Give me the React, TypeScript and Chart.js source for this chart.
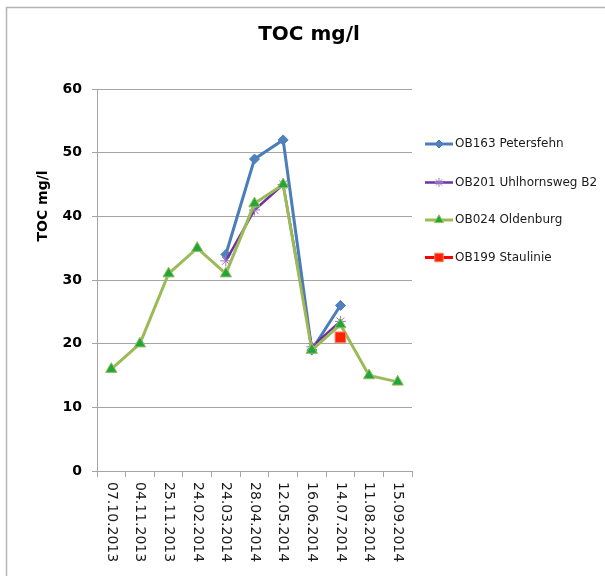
import React, { useEffect, useRef } from "react";
import { Chart, registerables } from "chart.js";
import { drawPoint } from "chart.js/helpers";

Chart.register(...registerables);

// Sampling dates
const categories = [
  "07.10.2013",
  "04.11.2013",
  "25.11.2013",
  "24.02.2014",
  "24.03.2014",
  "28.04.2014",
  "12.05.2014",
  "16.06.2014",
  "14.07.2014",
  "11.08.2014",
  "15.09.2014",
];

// TOC in mg/l per measuring point
const petersfehn = [null, null, null, null, 34, 49, 52, 19, 26, null, null];
const uhlhornsweg = [null, null, null, null, 33, 41, 45, 19.5, 23.5, null, null];
const oldenburg = [16, 20, 31, 35, 31, 42, 45, 19, 23, 15, 14];
const staulinie = [null, null, null, null, null, null, null, null, 21, null, null];

const seriesNames = [
  "OB163 Petersfehn",
  "OB201 Uhlhornsweg B2",
  "OB024 Oldenburg",
  "OB199 Staulinie",
];

const yTicks = { min: 0, max: 60, step: 10 };

const chartTitle = "TOC mg/l";
const yTitle = "TOC mg/l";

const FONT = "'DejaVu Sans', 'Liberation Sans', sans-serif";

const decorPlugin = {
  id: "decor",
  beforeDraw(chart: any) {
    const ctx = chart.ctx;
    ctx.save();
    ctx.fillStyle = "#ffffff";
    ctx.fillRect(0, 0, chart.width, chart.height);
    // outer frame
    ctx.strokeStyle = "#b4b4b4";
    ctx.lineWidth = 1.5;
    ctx.beginPath();
    ctx.moveTo(6.5, chart.height);
    ctx.lineTo(6.5, 7.5);
    ctx.lineTo(chart.width, 7.5);
    ctx.stroke();
    ctx.restore();
  },
  afterDraw(chart: any) {
    const ctx = chart.ctx;
    const area = chart.chartArea;
    ctx.save();

    // chart title
    ctx.fillStyle = "#000000";
    ctx.font = `bold 20px ${FONT}`;
    ctx.textAlign = "center";
    ctx.textBaseline = "alphabetic";
    ctx.fillText(chartTitle, 309, 40);

    // y axis title
    ctx.save();
    ctx.translate(43, 206);
    ctx.rotate(-Math.PI / 2);
    ctx.font = `bold 14px ${FONT}`;
    ctx.textAlign = "center";
    ctx.textBaseline = "middle";
    ctx.fillText(yTitle, 0, 0);
    ctx.restore();

    // x labels, rotated clockwise
    const xScale = chart.scales.x;
    ctx.font = `14px ${FONT}`;
    ctx.fillStyle = "#1a1a1a";
    categories.forEach((c, i) => {
      const x = xScale.getPixelForValue(i);
      ctx.save();
      ctx.translate(x, area.bottom + 11);
      ctx.rotate(Math.PI / 2);
      ctx.textAlign = "left";
      ctx.textBaseline = "middle";
      ctx.fillText(c, 0, 0);
      ctx.restore();
    });

    // legend
    const rows = [144, 182.5, 220, 257.5];
    chart.data.datasets.forEach((ds: any, i: number) => {
      const y = rows[i];
      ctx.strokeStyle = ds.borderColor;
      ctx.lineWidth = ds.borderWidth;
      ctx.beginPath();
      ctx.moveTo(425, y);
      ctx.lineTo(453, y);
      ctx.stroke();
      ctx.fillStyle = ds.pointBackgroundColor;
      ctx.strokeStyle = ds.pointBorderColor;
      ctx.lineWidth = ds.pointBorderWidth;
      drawPoint(ctx, { pointStyle: ds.pointStyle, radius: ds.pointRadius * 0.8, rotation: 0, borderWidth: ds.pointBorderWidth }, 439, y);
      ctx.fillStyle = "#1a1a1a";
      ctx.font = `12px ${FONT}`;
      ctx.textAlign = "left";
      ctx.textBaseline = "middle";
      ctx.fillText(seriesNames[i], 455, y);
    });

    ctx.restore();
  },
};

export default function App() {
  const canvasRef = useRef<HTMLCanvasElement | null>(null);

  useEffect(() => {
    const canvas = canvasRef.current;
    if (!canvas) return;
    const chart = new Chart(canvas, {
      type: "line",
      data: {
        labels: categories,
        datasets: [
          {
            label: seriesNames[0],
            data: petersfehn,
            borderColor: "#4a7ebb",
            borderWidth: 3,
            pointStyle: "rectRot",
            pointRadius: 5,
            pointBackgroundColor: "#4f81bd",
            pointBorderColor: "#4a7ebb",
            pointBorderWidth: 1,
            order: 3,
          },
          {
            label: seriesNames[1],
            data: uhlhornsweg,
            borderColor: "#7030a0",
            borderWidth: 2.5,
            pointStyle: "star",
            pointRadius: 5.5,
            pointBackgroundColor: "#9b72c4",
            pointBorderColor: "#9b72c4",
            pointBorderWidth: 1,
            order: 2,
          },
          {
            label: seriesNames[2],
            data: oldenburg,
            borderColor: "#9bbb59",
            borderWidth: 3,
            pointStyle: "triangle",
            pointRadius: 6.5,
            pointBackgroundColor: "#1ea83c",
            pointBorderColor: "#9bbb59",
            pointBorderWidth: 1,
            order: 1,
          },
          {
            label: seriesNames[3],
            data: staulinie,
            borderColor: "#ff0000",
            borderWidth: 3,
            pointStyle: "rect",
            pointRadius: 7.5,
            pointBackgroundColor: "#ff2200",
            pointBorderColor: "#ff7a5c",
            pointBorderWidth: 1,
            order: 0,
          },
        ],
      },
      options: {
        responsive: false,
        animation: false,
        spanGaps: false,
        layout: { padding: { top: 89, left: 0, right: 193, bottom: 0 } },
        plugins: {
          legend: { display: false },
          title: { display: false },
          tooltip: { enabled: false },
        },
        scales: {
          x: {
            type: "category",
            offset: true,
            grid: {
              offset: true,
              drawOnChartArea: false,
              drawTicks: true,
              tickLength: 6,
              color: "#a5a5a5",
            },
            border: { color: "#a5a5a5", width: 1 },
            ticks: { display: false, autoSkip: false },
            afterFit: (scale: any) => {
              scale.height = 105;
            },
          },
          y: {
            min: yTicks.min,
            max: yTicks.max,
            grid: {
              color: "#a5a5a5",
              lineWidth: 1,
              drawTicks: true,
              tickLength: 5,
            },
            border: { color: "#a5a5a5", width: 1 },
            ticks: {
              stepSize: yTicks.step,
              padding: 10,
              color: "#000000",
              font: { family: FONT, size: 14, weight: "bold" },
            },
            afterFit: (scale: any) => {
              scale.width = 97;
            },
          },
        },
      },
      plugins: [decorPlugin],
    });
    return () => chart.destroy();
  }, []);

  return (
    <div style={{ position: "absolute", left: 0, top: 0, width: 605, height: 576 }}>
      <canvas ref={canvasRef} width={605} height={576} style={{ display: "block" }} />
    </div>
  );
}
